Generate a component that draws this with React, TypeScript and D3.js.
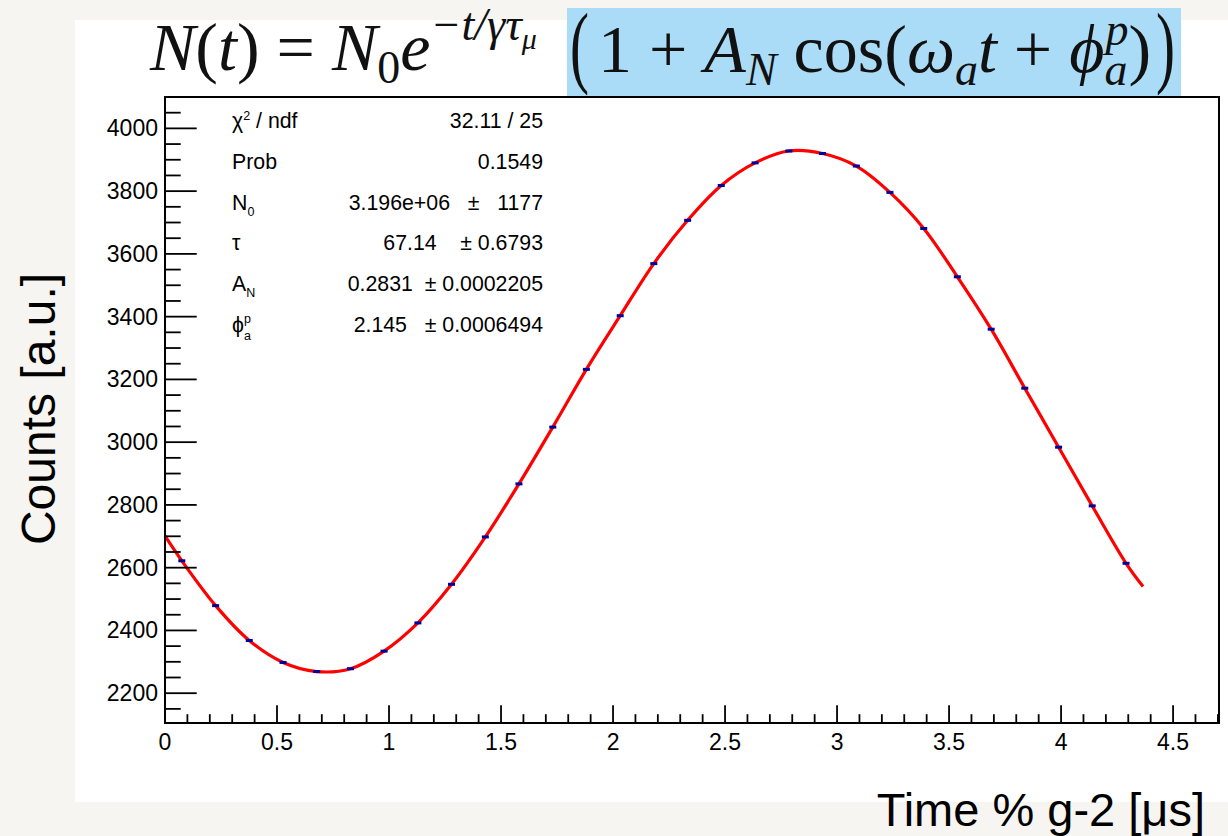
import React from "react";
import * as d3 from "d3";

// ---- data ----
const times = [0.075, 0.226, 0.376, 0.527, 0.677, 0.828, 0.978, 1.129, 1.279, 1.430, 1.580, 1.731, 1.881, 2.032, 2.182, 2.333, 2.483, 2.634, 2.785, 2.935, 3.086, 3.236, 3.387, 3.537, 3.688, 3.838, 3.989, 4.139, 4.290];
const counts = [2622, 2479, 2368, 2298, 2269, 2278, 2334, 2424, 2547, 2698, 2867, 3048, 3232, 3403, 3569, 3707, 3818, 3890, 3928, 3920, 3880, 3796, 3681, 3527, 3360, 3172, 2984, 2797, 2614];
// fit curve end points
const fitStartT = 0;
const fitStartN = 2701;
const fitEndT = 4.366;
const fitEndN = 2540;

const xMajorTicks = [0, 0.5, 1, 1.5, 2, 2.5, 3, 3.5, 4, 4.5];
const xTickLabels = ["0", "0.5", "1", "1.5", "2", "2.5", "3", "3.5", "4", "4.5"];
const yMajorTicks = [2200, 2400, 2600, 2800, 3000, 3200, 3400, 3600, 3800, 4000];
const yTickLabels = ["2200", "2400", "2600", "2800", "3000", "3200", "3400", "3600", "3800", "4000"];

const statLabels = ["chi", "Prob", "N0", "tau", "AN", "phi"];
const statValues = ["32.11 / 25", "0.1549", "3.196e+06   \u00b1   1177", "67.14    \u00b1 0.6793", "0.2831  \u00b1 0.0002205", "2.145   \u00b1 0.0006494"];

const X_DOMAIN: [number, number] = [0, 4.705];
const Y_DOMAIN: [number, number] = [2105, 4100];

export default function App() {
  const L = 165, R = 1219, T = 97, B = 723;
  const x = d3.scaleLinear().domain(X_DOMAIN).range([L, R]);
  const y = d3.scaleLinear().domain(Y_DOMAIN).range([B, T]);

  const xMinor = d3.range(0, 4.7001, 0.1).filter((v) => Math.abs(v * 2 - Math.round(v * 2)) > 1e-6);
  const yMinor = d3.range(2150, 4100.1, 50).filter((v) => v % 200 !== 0);

  const fitPts: [number, number][] = [[fitStartT, fitStartN], ...times.map((t, i) => [t, counts[i]] as [number, number]), [fitEndT, fitEndN]];
  const line = d3.line<[number, number]>().x((d) => x(d[0])).y((d) => y(d[1])).curve(d3.curveCatmullRom.alpha(0.5));

  const sans = "'Liberation Sans', Arial, Helvetica, sans-serif";
  const serif = "'Liberation Serif', 'Times New Roman', serif";

  const statY0 = 128;
  const statDY = 40.8;
  const sfs = 21.3;

  const renderLabel = (k: string) => {
    switch (k) {
      case "chi":
        return (<>{"\u03c7"}<tspan fontSize={12.5} dy={-8}>2</tspan><tspan dy={8}>{" / ndf"}</tspan></>);
      case "Prob":
        return "Prob";
      case "N0":
        return (<>N<tspan fontSize={12.5} dy={6}>0</tspan></>);
      case "tau":
        return "\u03c4";
      case "AN":
        return (<>A<tspan fontSize={12.5} dy={6}>N</tspan></>);
      case "phi":
        return (<>{"\u03d5"}<tspan fontSize={12.5} dy={8}>a</tspan><tspan fontSize={12.5} dx={-7} dy={-17}>p</tspan></>);
    }
    return k;
  };

  const fm = 68;
  const fsub = 46;

  return (
    <svg width={1228} height={836} style={{ position: "absolute", left: 0, top: 0, display: "block" }}>
      <rect x={0} y={0} width={1228} height={836} fill="#f6f5f1" />
      <rect x={75} y={20} width={1153} height={782} fill="#ffffff" />

      {/* formula */}
      <rect x={567} y={8} width={614} height={90} fill="#abdcf7" />
      <text x={150} y={70} fontFamily={serif} fontSize={fm} fill="#111">
        <tspan fontStyle="italic">N</tspan>(<tspan fontStyle="italic">t</tspan>) = <tspan fontStyle="italic">N</tspan>
        <tspan fontSize={fsub} dy={13}>0</tspan>
        <tspan fontStyle="italic" dy={-13}>e</tspan>
        <tspan fontSize={46} dy={-30} fontStyle="italic">{"\u2212t/\u03b3\u03c4"}</tspan>
        <tspan fontSize={30} dy={9} fontStyle="italic">{"\u03bc"}</tspan>
      </text>
      <text x={570} y={76} fontFamily={serif} fontSize={92} fill="#111" transform="translate(570,0) scale(0.62,1) translate(-570,0)">(</text>
      <text x={1156} y={76} fontFamily={serif} fontSize={92} fill="#111" transform="translate(1156,0) scale(0.62,1) translate(-1156,0)">)</text>
      <text x={598} y={72} fontFamily={serif} fontSize={fm} fill="#111">
        1 + <tspan fontStyle="italic">A</tspan>
        <tspan fontSize={fsub} dy={13} fontStyle="italic">N</tspan>
        <tspan dy={-13}> cos(</tspan>
        <tspan fontStyle="italic">{"\u03c9"}</tspan>
        <tspan fontSize={fsub} dy={13} fontStyle="italic">a</tspan>
        <tspan dy={-13} fontStyle="italic">t</tspan> + <tspan fontStyle="italic">{"\u03d5"}</tspan>
        <tspan fontSize={fsub} dy={13} fontStyle="italic">a</tspan>
        <tspan fontSize={fsub} dx={-22} dy={-40} fontStyle="italic">p</tspan>
        <tspan dy={27}>)</tspan>
      </text>

      {/* fit curve */}
      <path d={line(fitPts) || ""} fill="none" stroke="#ff0000" strokeWidth={3.2} />

      {/* data points */}
      {times.map((t, i) => (
        <rect key={i} x={x(t) - 3.5} y={y(counts[i]) - 1.5} width={7} height={3} fill="#00009a" />
      ))}

      {/* frame */}
      <rect x={L} y={T} width={R - L} height={B - T} fill="none" stroke="#000" strokeWidth={2} />

      {/* x ticks */}
      {xMajorTicks.map((v) => (
        <line key={"xM" + v} x1={x(v)} x2={x(v)} y1={B} y2={B - 17.7} stroke="#000" strokeWidth={1.8} />
      ))}
      {xMinor.map((v) => (
        <line key={"xm" + v} x1={x(v)} x2={x(v)} y1={B} y2={B - 8.8} stroke="#000" strokeWidth={1.8} />
      ))}
      {xMajorTicks.map((v, i) => (
        <text key={"xl" + v} x={x(v)} y={750} textAnchor="middle" fontFamily={sans} fontSize={23} fill="#000">{xTickLabels[i]}</text>
      ))}

      {/* y ticks */}
      {yMajorTicks.map((v) => (
        <line key={"yM" + v} x1={L} x2={L + 31.7} y1={y(v)} y2={y(v)} stroke="#000" strokeWidth={1.8} />
      ))}
      {yMinor.map((v) => (
        <line key={"ym" + v} x1={L} x2={L + 15.7} y1={y(v)} y2={y(v)} stroke="#000" strokeWidth={1.8} />
      ))}
      {yMajorTicks.map((v, i) => (
        <text key={"yl" + v} x={158} y={y(v) + 8} textAnchor="end" fontFamily={sans} fontSize={23} fill="#000">{yTickLabels[i]}</text>
      ))}

      {/* stats */}
      {statLabels.map((k, i) => (
        <text key={"sl" + k} x={232} y={statY0 + i * statDY} fontFamily={sans} fontSize={sfs} fill="#000">{renderLabel(k)}</text>
      ))}
      {statValues.map((s, i) => (
        <text key={"sv" + i} x={543} y={statY0 + i * statDY} textAnchor="end" fontFamily={sans} fontSize={sfs} fill="#000" style={{ whiteSpace: "pre" }}>{s}</text>
      ))}

      {/* axis titles */}
      <text x={1205} y={826} textAnchor="end" fontFamily={sans} fontSize={47} fill="#000">Time % g-2 [{"\u03bc"}s]</text>
      <text transform="translate(55,409) rotate(-90)" textAnchor="middle" fontFamily={sans} fontSize={48} fill="#000">Counts [a.u.]</text>
    </svg>
  );
}
